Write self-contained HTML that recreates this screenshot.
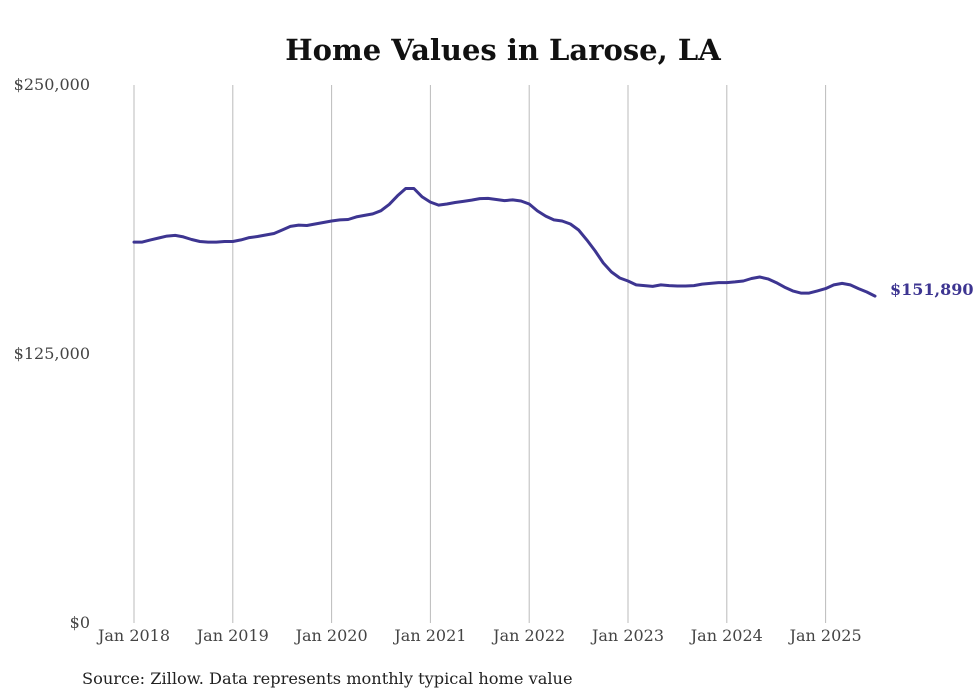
<!DOCTYPE html>
<html><head><meta charset="utf-8"><style>
body{margin:0;background:#fff;}
svg{display:block;font-family:"DejaVu Serif","Liberation Serif",serif;}
</style></head><body>
<svg id="chart" width="980" height="699" viewBox="0 0 980 699">
<text x="503" y="60" text-anchor="middle" font-size="29" font-weight="bold" fill="#111">Home Values in Larose, LA</text>
<g id="grid"></g><g id="yaxis"></g><g id="xaxis"></g><g id="series"></g>
<text x="82" y="684" font-size="16.2" fill="#222">Source: Zillow. Data represents monthly typical home value</text>
</svg>
<script>
const yTicks=[0,125000,250000];
const yTickLabels=["$0","$125,000","$250,000"];
const xYears=[2018,2019,2020,2021,2022,2023,2024,2025];
const xTickLabels=["Jan 2018","Jan 2019","Jan 2020","Jan 2021","Jan 2022","Jan 2023","Jan 2024","Jan 2025"];
const startYear=2018;
const values=[177.0,177.0,178.0,178.9,179.8,180.1,179.4,178.2,177.3,177.0,177.0,177.3,
177.3,178.0,179.1,179.6,180.3,181.0,182.6,184.3,184.9,184.7,185.4,186.1,
186.8,187.3,187.5,188.7,189.4,190.1,191.6,194.5,198.5,201.9,201.9,198.0,
195.6,194.2,194.7,195.4,195.9,196.5,197.2,197.3,196.8,196.3,196.6,196.1,
194.7,191.5,189.1,187.3,186.8,185.4,182.6,178.0,172.9,167.3,163.1,160.3,
158.9,157.1,156.8,156.4,157.1,156.8,156.6,156.6,156.8,157.5,157.8,158.2,
158.2,158.5,158.9,160.1,160.8,159.9,158.2,156.1,154.3,153.3,153.3,154.3,
155.4,157.1,157.8,157.1,155.4,153.8,151.89];
const lastLabel="$151,890";
const NS="http://www.w3.org/2000/svg";
const y=v=>623-v/250000*538;
const x=m=>134+m*(98.8/12);
function mk(tag,attrs,parent){const e=document.createElementNS(NS,tag);for(const k in attrs)e.setAttribute(k,attrs[k]);parent.appendChild(e);return e;}
const grid=document.getElementById('grid'),ya=document.getElementById('yaxis'),xa=document.getElementById('xaxis'),se=document.getElementById('series');
yTicks.forEach((t,i)=>{
 const l=mk('text',{x:90,y:y(t)+5,'text-anchor':'end','font-size':16,fill:'#444'},ya);
 l.textContent=yTickLabels[i];
 
 
});
xYears.forEach((yr,i)=>{
 const xx=x((yr-startYear)*12);
 const g=mk('line',{x1:xx,x2:xx,y1:85,y2:623,stroke:'#bbb','stroke-width':1},grid);
 
 
 const l=mk('text',{x:xx,y:641,'text-anchor':'middle','font-size':16,fill:'#444'},xa);
 l.textContent=xTickLabels[i];
 
 
});
const d=values.map((v,i)=>(i?'L':'M')+x(i).toFixed(1)+','+y(v*1000).toFixed(1)).join(' ');
const p=mk('path',{d:d,fill:'none',stroke:'#3d3591','stroke-width':3,'stroke-linejoin':'round','stroke-linecap':'round'},se);


const li=values.length-1;
const t=mk('text',{x:x(li)+15,y:y(values[li]*1000)-1,'font-size':16,'font-weight':'bold',fill:'#3d3591'},se);
t.textContent=lastLabel;


</script>
</body></html>
